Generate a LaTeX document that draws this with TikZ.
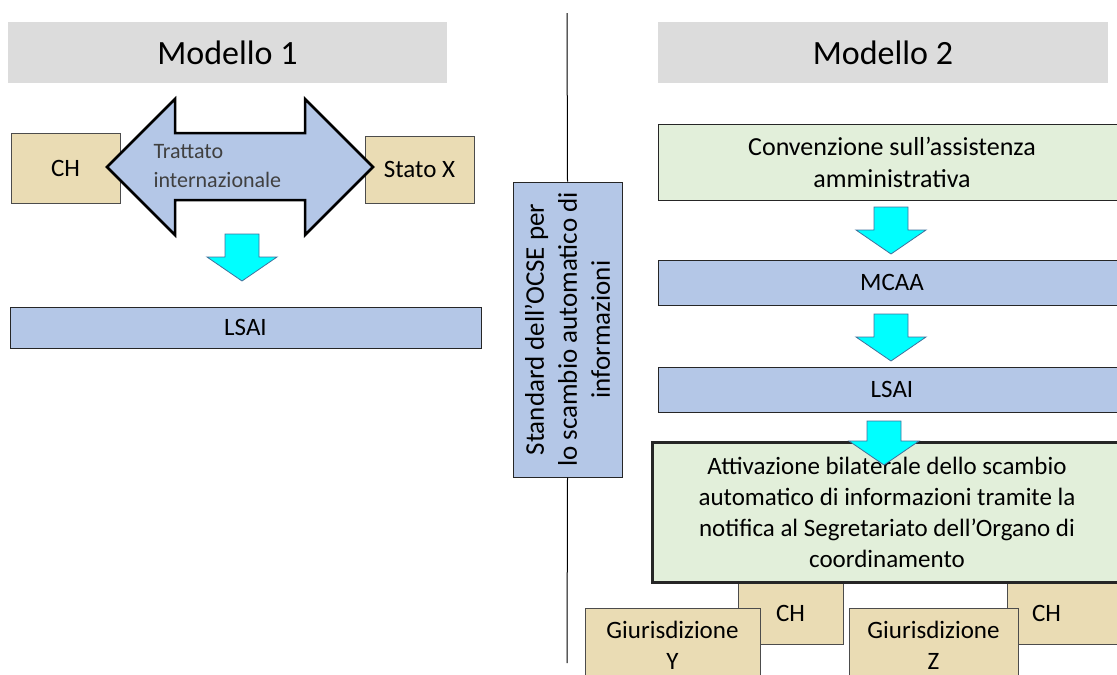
\documentclass[tikz,border=0pt]{standalone}
\usepackage{fontspec}
\setmainfont{Carlito}

\definecolor{hdrgray}{HTML}{DCDCDC}
\definecolor{boxblue}{HTML}{B4C7E7}
\definecolor{boxgreen}{HTML}{E2EFDA}
\definecolor{boxtan}{HTML}{EADCB4}
\definecolor{arrcyan}{HTML}{00FFFF}
\definecolor{arredge}{HTML}{41719C}
\definecolor{txtgray}{HTML}{404040}

% block arrow pointing down: centre x, top y, tip y
\newcommand{\flowarrow}[3]{%
  \draw[flowarr] (#1-17,#2) -- (#1+17,#2) -- (#1+17,#3-24) -- (#1+35,#3-24)
    -- (#1,#3) -- (#1-35,#3-24) -- (#1-17,#3-24) -- cycle;}

\begin{document}
\begin{tikzpicture}[x=1pt,y=-1pt,
    hdr/.style={fill=hdrgray, minimum height=61, font=\fontsize{34}{40}\selectfont},
    bluebox/.style={draw=black!85, line width=1pt, fill=boxblue, align=center,
        font=\fontsize{25}{31}\selectfont},
    greenbox/.style={draw=black!85, line width=1pt, fill=boxgreen, align=center,
        font=\fontsize{25}{31}\selectfont},
    tanbox/.style={draw=black!70, line width=1pt, fill=boxtan, align=center,
        font=\fontsize{25}{31}\selectfont},
    flowarr/.style={fill=arrcyan, draw=arredge, line width=0.8pt}]
    \clip (0,0) rectangle (1117,675);

    % Modello 1
    \node[hdr, minimum width=439] (mod1) at (227.5,52.5) {Modello 1};
    \node[tanbox, minimum width=109, minimum height=70] (ch) at (65.5,168) {CH};
    \node[tanbox, minimum width=109, minimum height=67] (statox) at (419.5,169.5) {Stato X};
    \draw[line width=2.5pt, fill=boxblue] (107,167) -- (175,99) -- (175,133) -- (305,133)
        -- (305,99) -- (373,167) -- (305,235) -- (305,200) -- (175,200) -- (175,235) -- cycle;
    \node[align=left, text=txtgray, font=\fontsize{22}{29}\selectfont, anchor=west]
        (trattato) at (150,166) {Trattato\\internazionale};
    \flowarrow{242}{234}{281}
    \node[bluebox, minimum width=471, minimum height=41] (lsaia) at (245.5,327.5) {LSAI};

    % separator and OCSE standard
    \coordinate (ltop) at (567,13);
    \coordinate (lbot) at (567,663);
    \node[bluebox, rotate=90, minimum width=295, minimum height=109,
        font=\fontsize{27}{33}\selectfont] (std) at (567.5,329.5)
        {Standard dell’OCSE per\\lo scambio automatico di\\informazioni};
    \draw[line width=1pt] (ltop) -- (std.east);
    \draw[line width=1pt] (std.west) -- (lbot);

    % Modello 2
    \node[hdr, minimum width=450] (mod2) at (883,52.5) {Modello 2};
    \node[greenbox, minimum width=468, minimum height=76, font=\fontsize{26}{32}\selectfont]
        (conv) at (892,162) {Convenzione sull’assistenza\\amministrativa};
    \flowarrow{891}{207}{254}
    \node[bluebox, minimum width=468, minimum height=45] (mcaa) at (892,282.5) {MCAA};
    \flowarrow{891}{314}{361}
    \node[bluebox, minimum width=468, minimum height=45] (lsaib) at (892,389.5) {LSAI};

    % jurisdictions
    \node[tanbox, minimum width=105, minimum height=62] (chy) at (790.5,613) {CH};
    \node[tanbox, align=left, text width=68, inner xsep=25, minimum height=62] (chz) at (1066,613) {CH};
    \node[greenbox, line width=3pt, minimum width=470, minimum height=140] (attiv) at (887,512)
        {Attivazione bilaterale dello scambio\\automatico di informazioni tramite la\\
         notifica al Segretariato dell’Organo di\\coordinamento};
    \flowarrow{884}{421}{465}
    \node[tanbox, minimum width=175, minimum height=74] (giury) at (672.5,645) {Giurisdizione\\Y};
    \node[tanbox, minimum width=169, minimum height=74] (giurz) at (933.5,645) {Giurisdizione\\Z};
\end{tikzpicture}
\end{document}
